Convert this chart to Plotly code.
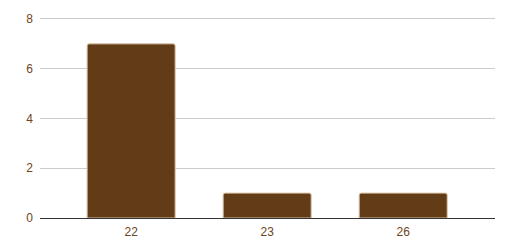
import plotly.graph_objects as go

categories = ["22", "23", "26"]
values = [7, 1, 1]
y_ticks = [0, 2, 4, 6, 8]

fig = go.Figure(
    go.Bar(
        x=categories,
        y=values,
        width=0.647,
        marker=dict(color="#623c16", line=dict(color="#d9c3a5", width=1), cornerradius=2),
        hoverinfo="skip",
    )
)

fig.update_layout(
    width=507,
    height=251,
    margin=dict(l=40, r=12, t=16, b=33),
    paper_bgcolor="white",
    plot_bgcolor="white",
    showlegend=False,
    font=dict(family="Liberation Sans, Arial, sans-serif", size=12, color="#6b4522"),
    xaxis=dict(
        type="category",
        range=[-0.67, 2.675],
        showgrid=False,
        showline=True,
        linecolor="#333333",
        linewidth=1,
        ticks="",
        ticklabelstandoff=3,
        tickfont=dict(size=12, color="#6b4522"),
    ),
    yaxis=dict(
        range=[0, 8.12],
        tickvals=y_ticks,
        showgrid=True,
        gridcolor="#cccccc",
        gridwidth=1,
        zeroline=False,
        showline=False,
        ticks="",
        ticklabelstandoff=6,
        tickfont=dict(size=12, color="#6b4522"),
    ),
)

fig.write_html("out.html")
